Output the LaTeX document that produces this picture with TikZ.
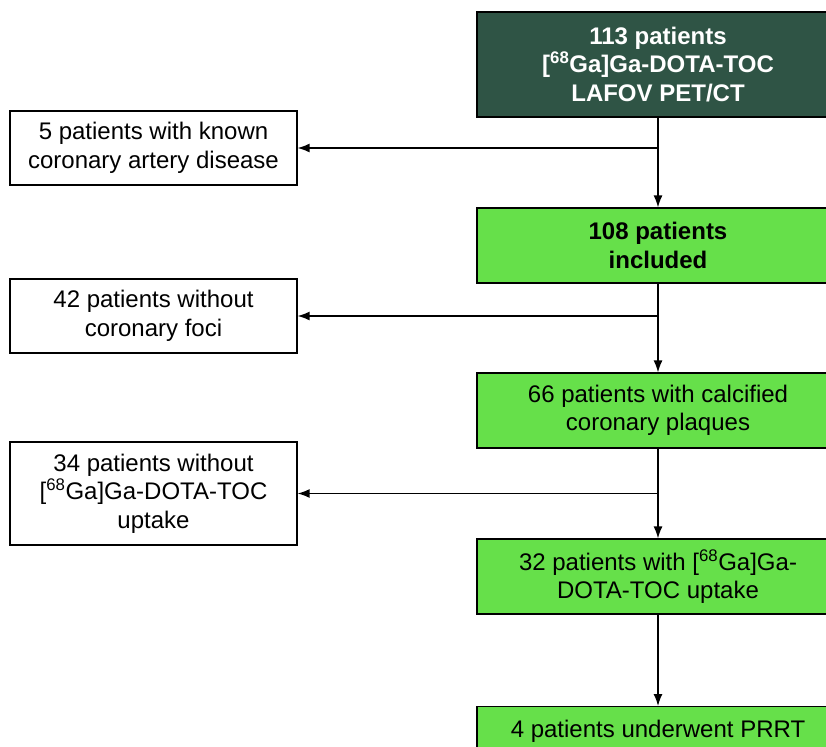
\documentclass[tikz,border=0pt]{standalone}
\usepackage{fontspec}
\setmainfont{Liberation Sans}
\usetikzlibrary{arrows.meta}
\definecolor{darkbox}{RGB}{47,84,69}
\definecolor{greenbox}{RGB}{102,224,74}
\tikzset{
  box/.style={draw=black, line width=1.2pt, align=center, inner sep=0pt,
    font=\fontsize{24}{28.5}\selectfont},
  leftbox/.style={box, fill=white, minimum width=287pt},
  rightbox/.style={box, fill=greenbox, minimum width=362pt, minimum height=75pt},
  arr/.style={-{Latex[length=12pt,width=9pt]}, line width=1.4pt}
}
\begin{document}
\begin{tikzpicture}[x=1pt,y=-1pt]
      \useasboundingbox (0,0) rectangle (826,746);
      \clip (0,0) rectangle (826,746);
      \node[rightbox, fill=darkbox, text=white, font=\fontsize{24}{28.5}\selectfont\bfseries,
        minimum height=105pt] (start) at (658,64.5)
        {113 patients\\{}[\textsuperscript{68}Ga]Ga-DOTA-TOC\\LAFOV PET/CT};
      \node[leftbox, minimum height=74pt] (cad) at (153.5,148)
        {5 patients with known\\coronary artery disease};
      \node[rightbox, font=\fontsize{24}{28.5}\selectfont\bfseries] (incl) at (658,245.5)
        {108 patients\\included};
      \node[leftbox, minimum height=74pt] (nofoci) at (153.5,316)
        {42 patients without\\coronary foci};
      \node[rightbox] (calc) at (658,410.5)
        {66 patients with calcified\\coronary plaques};
      \node[leftbox, minimum height=103pt] (nouptake) at (153.5,493.5)
        {34 patients without\\{}[\textsuperscript{68}Ga]Ga-DOTA-TOC\\uptake};
      \node[rightbox] (uptake) at (658,576.5)
        {32 patients with [\textsuperscript{68}Ga]Ga-\\DOTA-TOC uptake};
      \node[rightbox, minimum height=80pt, anchor=north, text depth=36pt] (prrt) at (658,706)
        {4 patients underwent PRRT};
      \begin{scope}[arr]
        \draw (start) -- (incl);
        \draw (incl) -- (calc);
        \draw (calc) -- (uptake);
        \draw (uptake) -- (prrt);
        \draw (start.south |- cad.east) -- (cad);
        \draw (incl.south |- nofoci.east) -- (nofoci);
        \draw (calc.south |- nouptake.east) -- (nouptake);
      \end{scope}
    \end{tikzpicture}
\end{document}
